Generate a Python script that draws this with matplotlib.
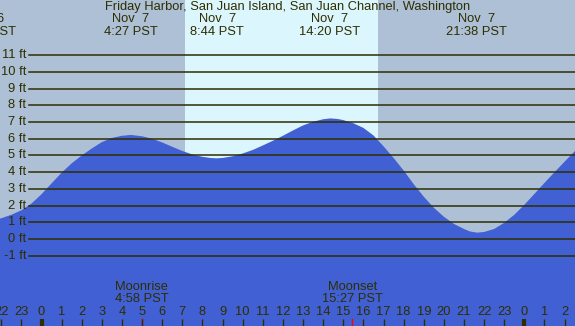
import numpy as np
import matplotlib
matplotlib.use('Agg')
import matplotlib.pyplot as plt
import matplotlib.transforms as mtransforms

plt.rcParams['font.family'] = ['Liberation Sans', 'DejaVu Sans']

# Tide heights (ft), hours from midnight Nov 7
horas = [-3, -2.5, -2, -1.5, -1, -0.5, 0, 0.5, 1, 1.5, 2, 2.5, 3, 3.5, 4, 4.45,
         5, 5.5, 6, 6.5, 7, 7.5, 8, 8.4, 8.7, 9, 9.5, 10, 10.5, 11, 11.5, 12,
         12.5, 13, 13.5, 14, 14.35, 14.7, 15, 15.5, 16, 16.5, 17, 17.5, 18,
         18.5, 19, 19.5, 20, 20.5, 21, 21.3, 21.65, 22, 22.5, 23, 23.5, 24,
         24.5, 25, 25.5, 26, 26.5, 27]
altura = [1.05, 1.13, 1.24, 1.45, 1.72, 2.12, 2.68, 3.33, 3.97, 4.53, 5.0, 5.42,
          5.8, 6.05, 6.18, 6.23, 6.15, 6.0, 5.78, 5.52, 5.27, 5.06, 4.92, 4.85,
          4.83, 4.85, 4.95, 5.12, 5.33, 5.6, 5.88, 6.18, 6.5, 6.8, 7.02, 7.17,
          7.22, 7.19, 7.12, 6.93, 6.65, 6.2, 5.55, 4.85, 4.1, 3.28, 2.53, 1.87,
          1.33, 0.9, 0.6, 0.45, 0.38, 0.42, 0.6, 0.97, 1.45, 2.05, 2.7, 3.36,
          4.0, 4.63, 5.25, 5.85]

# Marea alta / baja
eventos_h = [-2.78, 4.45, 8.73, 14.33, 21.63]
eventos_dia = ['Nov  6', 'Nov  7', 'Nov  7', 'Nov  7', 'Nov  7']
eventos_hora = ['21:13 PST', '4:27 PST', '8:44 PST', '14:20 PST', '21:38 PST']
titulo = 'Friday Harbor, San Juan Island, San Juan Channel, Washington'

# Sol y luna
amanecer, atardecer = 7.13, 16.71
luna_h = [4.97, 15.45]
luna_txt = ['Moonrise', 'Moonset']
luna_hora = ['4:58 PST', '15:27 PST']

niveles = list(range(-1, 12))
ticks_h = list(range(-2, 27))

c_noche = '#adc0d6'
c_dia = '#dcf6fe'
c_agua = '#4160d4'
c_texto = '#2e2e00'
fs = 9.3

fig = plt.figure(figsize=(5.75, 3.26), dpi=100, facecolor=c_noche)
ax = fig.add_axes([0, 0, 1, 1])
ax.set_facecolor(c_noche)
ax.set_xlim(-2.063, 26.516)
ax.set_ylim(-5.21, 14.31)
ax.axis('off')

ax.axvspan(amanecer, atardecer, color=c_dia, lw=0, zorder=1)
ax.fill_between(horas, altura, -10, color=c_agua, lw=0, zorder=2)

def fy(py):
    # fila en pixeles (desde arriba) -> fraccion del eje
    return 1 - py / 326

bt = mtransforms.blended_transform_factory(ax.transData, ax.transAxes)
bt_y = mtransforms.blended_transform_factory(ax.transAxes, ax.transData)

for n in niveles:
    ax.axhline(n, xmin=29/575, xmax=1, color=c_texto, lw=1.1, zorder=3)
    ax.text(26/575, n, '%d ft' % n, transform=bt_y, ha='right', va='center',
            fontsize=fs, color=c_texto, zorder=4)

ax.text(0.5, fy(7), titulo, transform=ax.transAxes, ha='center', va='center',
        fontsize=fs, color=c_texto, zorder=4)
for h, d, t in zip(eventos_h, eventos_dia, eventos_hora):
    ax.text(h, fy(19.3), d, transform=bt, ha='center', va='center',
            fontsize=fs, color=c_texto, zorder=4)
    ax.text(h, fy(31.7), t, transform=bt, ha='center', va='center',
            fontsize=fs, color=c_texto, zorder=4)

for h, t, hr in zip(luna_h, luna_txt, luna_hora):
    ax.text(h, fy(287.3), t, transform=bt, ha='center', va='center',
            fontsize=fs, color=c_texto, zorder=4)
    ax.text(h, fy(299.3), hr, transform=bt, ha='center', va='center',
            fontsize=fs, color=c_texto, zorder=4)
    ax.plot([h, h], [0, 7/326], transform=bt, color='red', lw=1, zorder=4)

for h in ticks_h:
    ancho = 3 if h % 24 == 0 else 1
    ax.plot([h, h], [0, 7/326], transform=bt, color=c_texto, lw=ancho, zorder=4,
            solid_capstyle='butt')
    ax.text(h, fy(311.7), str(h % 24), transform=bt, ha='center', va='center',
            fontsize=fs, color=c_texto, zorder=4)

fig.savefig('out.png', dpi=100, facecolor=c_noche)
